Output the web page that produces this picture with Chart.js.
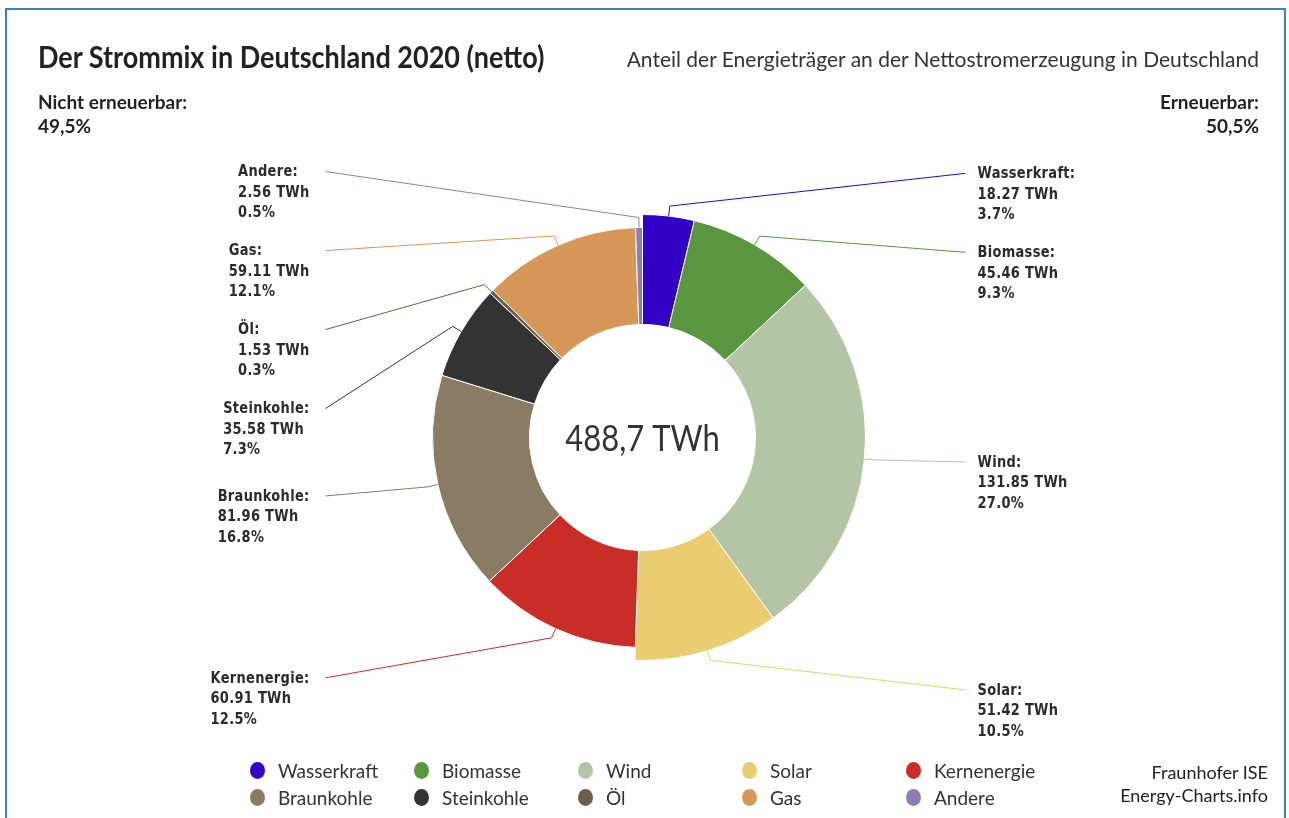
<!DOCTYPE html>
<html lang="de">
<head>
<meta charset="utf-8">
<title>Der Strommix in Deutschland 2020 (netto)</title>
<script src="https://cdn.jsdelivr.net/npm/chart.js@4.4.1/dist/chart.umd.min.js"></script>
<style>
    html, body { margin: 0; padding: 0; background: #fff; }
    body { width: 1289px; height: 818px; position: relative; overflow: hidden; font-family: Lato, 'Open Sans', sans-serif; color: #333; }
    .frame { position: absolute; left: 5px; top: 8px; width: 1281px; height: 840px; border: 2px solid #3d7fc4; border-bottom: none; box-sizing: border-box; }
    .chart-box { position: absolute; left: 0; top: 0; width: 1289px; height: 818px; }
    .t { position: absolute; white-space: nowrap; line-height: 1; }
    #title { left: 38px; top: 41px; font-size: 27px; font-weight: 700; color: #222; transform: scaleY(1.12); transform-origin: left top; }
    #subtitle { right: 30px; top: 47px; font-size: 21px; color: #333; transform: scaleY(1.04); transform-origin: right top; }
    .share { top: 90px; font-size: 19px; font-weight: 700; color: #222; line-height: 24px; }
    #shareLeft { left: 38px; }
    #shareRight { right: 30px; text-align: right; }
    #source { right: 21px; top: 761px; font-size: 18px; line-height: 23px; text-align: right; color: #222; }
    #legend { position: absolute; left: 250px; top: 760px; display: grid; grid-template-columns: 164px 164px 164px 164px 164px; row-gap: 7px; }
    .item { display: flex; align-items: center; height: 20px; font-size: 19px; color: #333; }
    .dot { width: 15px; height: 17px; border-radius: 50%; margin-right: 13px; flex: none; }
</style>
</head>
<body>
<div class="frame"></div>
<div class="chart-box"><canvas id="strommixChart"></canvas></div>
<div class="t" id="title">Der Strommix in Deutschland 2020 (netto)</div>
<div class="t" id="subtitle">Anteil der Energieträger an der Nettostromerzeugung in Deutschland</div>
<div class="t share" id="shareLeft"></div>
<div class="t share" id="shareRight"></div>
<div id="legend"></div>
<div class="t" id="source">Fraunhofer ISE<br>Energy-Charts.info</div>

<script>
// Nettostromerzeugung 2020, TWh
var categories = ['Wasserkraft', 'Biomasse', 'Wind', 'Solar', 'Kernenergie', 'Braunkohle', 'Steinkohle', 'Öl', 'Gas', 'Andere'];
var valuesTWh = [18.27, 45.46, 131.85, 51.42, 60.91, 81.96, 35.58, 1.53, 59.11, 2.56];
var renewable = [true, true, true, true, false, false, false, false, false, false];
var colors = ['#3300c6', '#5a9540', '#b3c5a5', '#e9cd70', '#c92d27', '#8a7b65', '#333333', '#6e5d48', '#d69759', '#8f7daf'];

var total = valuesTWh.reduce(function (a, b) { return a + b; }, 0);
var renewTotal = valuesTWh.reduce(function (a, v, i) { return renewable[i] ? a + v : a; }, 0);

// round half up, float-safe
function deNum(v) { return (Math.round(v * 10 + 1e-6) / 10).toFixed(1).replace('.', ','); }

document.getElementById('shareLeft').innerHTML = 'Nicht erneuerbar:<br>' + deNum((total - renewTotal) / total * 100) + '%';
document.getElementById('shareRight').innerHTML = 'Erneuerbar:<br>' + deNum(renewTotal / total * 100) + '%';

// legend, 5 per row
var legendEl = document.getElementById('legend');
categories.forEach(function (name, i) {
    var item = document.createElement('div');
    item.className = 'item';
    item.innerHTML = '<i class="dot" style="background:' + colors[i] + '"></i><span>' + name + '</span>';
    legendEl.appendChild(item);
});

// renewables get a slightly bigger ring
var renewableRing = {
    id: 'renewableRing',
    afterDatasetsUpdate: function (chart) {
        var meta = chart.getDatasetMeta(0);
        meta.data.forEach(function (arc, i) {
            if (renewable[i]) arc.outerRadius += 13;
        });
    }
};

// labels with leader lines, Highcharts style
var sliceLabels = {
    id: 'sliceLabels',
    afterDraw: function (chart) {
        var ctx = chart.ctx;
        var meta = chart.getDatasetMeta(0);
        var items = meta.data.map(function (arc, i) {
            var mid = (arc.startAngle + arc.endAngle) / 2;
            return {
                i: i, arc: arc, cos: Math.cos(mid), sin: Math.sin(mid),
                right: Math.cos(mid) >= 0, y: arc.y + Math.sin(mid) * 265
            };
        });
        [true, false].forEach(function (side) {
            var list = items.filter(function (it) { return it.right === side; })
                .sort(function (a, b) { return a.y - b.y; });
            for (var k = 1; k < list.length; k++) {
                if (list[k].y < list[k - 1].y + 79) list[k].y = list[k - 1].y + 79;
            }
        });

        ctx.save();
        ctx.font = 'bold 13px "DejaVu Sans", Verdana, sans-serif';
        ctx.letterSpacing = '0.3px';
        ctx.textBaseline = 'middle';
        ctx.textAlign = 'left';
        items.forEach(function (it) {
            var arc = it.arc, i = it.i;
            var cx = arc.x, cy = arc.y, r = arc.outerRadius;
            var endX = it.right ? cx + 323 : cx - 317;
            // connector
            ctx.strokeStyle = colors[i];
            ctx.lineWidth = 1;
            ctx.beginPath();
            ctx.moveTo(cx + it.cos * r, cy + it.sin * r);
            ctx.lineTo(cx + it.cos * (r + 10), cy + it.sin * (r + 10));
            ctx.lineTo(endX, it.y - 1);
            ctx.stroke();
            // text
            var lines = [
                categories[i] + ':',
                valuesTWh[i].toFixed(2) + ' TWh',
                (valuesTWh[i] / total * 100).toFixed(1) + '%'
            ];
            var maxW = Math.max.apply(null, lines.map(function (l) { return ctx.measureText(l).width; }));
            var x0 = it.right ? endX + 12 : endX - 16 - maxW;
            ctx.fillStyle = '#2b2b2b';
            lines.forEach(function (l, k) {
                ctx.save();
                ctx.translate(x0, it.y + k * 20.5);
                ctx.scale(1, 1.15);
                ctx.fillText(l, 0, 0);
                ctx.restore();
            });
        });
        ctx.restore();
    }
};

var centerTotal = {
    id: 'centerTotal',
    afterDraw: function (chart) {
        var arc = chart.getDatasetMeta(0).data[0];
        var ctx = chart.ctx;
        ctx.save();
        ctx.font = '31px Lato, "Open Sans", sans-serif';
        ctx.fillStyle = '#333';
        ctx.textAlign = 'center';
        ctx.textBaseline = 'middle';
        ctx.translate(arc.x, arc.y + 2);
        ctx.scale(1, 1.18);
        ctx.fillText(deNum(total) + ' TWh', 0, 0);
        ctx.restore();
    }
};

new Chart(document.getElementById('strommixChart').getContext('2d'), {
    type: 'doughnut',
    data: {
        labels: categories,
        datasets: [{
            data: valuesTWh,
            backgroundColor: colors,
            borderColor: '#ffffff',
            borderWidth: 1
        }]
    },
    options: {
        responsive: true, maintainAspectRatio: false,
        animation: false,
        cutout: 113,
        layout: { padding: { left: 432, top: 227, right: 436, bottom: 170 } },
        plugins: { legend: { display: false }, tooltip: { enabled: false } },
        events: []
    },
    plugins: [renewableRing, sliceLabels, centerTotal]
});
</script>
</body>
</html>
